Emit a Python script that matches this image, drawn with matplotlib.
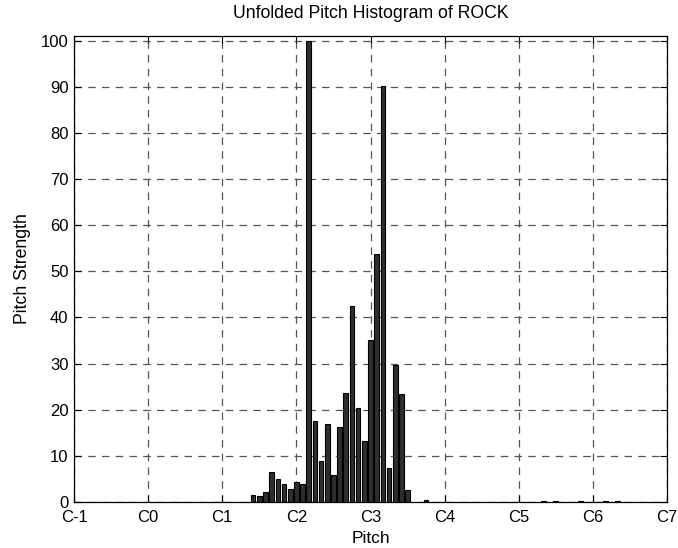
import matplotlib
matplotlib.use("Agg")
import matplotlib.pyplot as plt

plt.rcParams['font.family'] = ['Liberation Sans', 'DejaVu Sans']

# MIDI note numbers and pitch strengths
pitches = [29, 30, 31, 32, 33, 34, 35, 36, 37, 38, 39, 40, 41, 42, 43, 44, 45, 46,
           47, 48, 49, 50, 51, 52, 53, 54, 57, 76, 78, 82, 86, 88]
strengths = [1.6, 1.3, 2.2, 6.6, 4.9, 4.0, 2.8, 4.3, 4.0, 100.0, 17.5, 8.8, 17.0, 5.8,
             16.2, 23.6, 42.4, 20.4, 13.2, 35.1, 53.8, 90.1, 7.3, 29.8, 23.3, 2.6,
             0.5, 0.25, 0.25, 0.25, 0.25, 0.25]

xtick_pos = [0, 12, 24, 36, 48, 60, 72, 84, 96]
xtick_labels = ['C-1', 'C0', 'C1', 'C2', 'C3', 'C4', 'C5', 'C6', 'C7']
ytick_pos = list(range(0, 101, 10))

fig = plt.figure(figsize=(6.78, 5.48), dpi=100)
ax = fig.add_axes([74/678, 46/548, 593/678, 466/548])

ax.bar(pitches, strengths, width=0.75, color='#2e2e2e', edgecolor='black',
       linewidth=0.8, zorder=3)

ax.set_xlim(0, 96)
ax.set_ylim(0, 101)
ax.set_xticks(xtick_pos)
ax.set_xticklabels(xtick_labels)
ax.set_yticks(ytick_pos)

ax.grid(True, linestyle=(0, (6, 5)), color='#555555', linewidth=0.9, zorder=0)
ax.set_axisbelow(True)

ax.tick_params(direction='in', length=5, width=0.8, top=True, right=True,
               labelsize=12, colors='black')
ax.tick_params(axis='x', pad=6)
ax.tick_params(axis='y', pad=4)
for s in ax.spines.values():
    s.set_linewidth(0.9)

ax.set_title('Unfolded Pitch Histogram of ROCK', fontsize=12.7, pad=13)
ax.set_xlabel('Pitch', fontsize=12.5, labelpad=4)
ax.set_ylabel('Pitch Strength', fontsize=12.7, labelpad=7)

fig.savefig('out.png', dpi=100)
